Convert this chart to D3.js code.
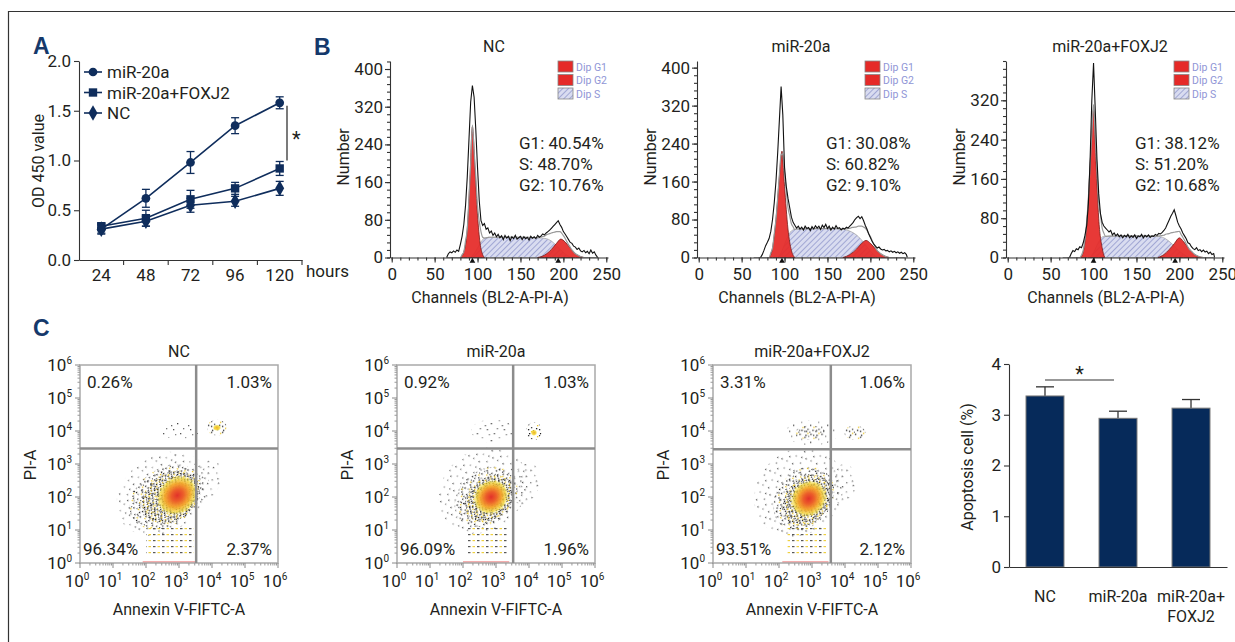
<!DOCTYPE html>
<html>
<head>
<meta charset="UTF-8">
<title>miR-20a / FOXJ2 figure</title>
<script src="https://d3js.org/d3.v7.min.js"></script>
<style>
  body { margin: 0; background: #fff; }
  svg text { fill: #231f20; }
  .axis path, .axis line { stroke: #333; stroke-width: 1.1; }
</style>
</head>
<body>
<svg id="fig" width="1235" height="642"></svg>
<script>
  // ---------- data ----------
  // panel A: CCK-8
  const hours = ["24", "48", "72", "96", "120"];
  const odMir = [0.31, 0.62, 0.98, 1.35, 1.58];
  const odMirErr = [0.04, 0.09, 0.11, 0.08, 0.06];
  const odFox = [0.34, 0.42, 0.61, 0.72, 0.92];
  const odFoxErr = [0.03, 0.08, 0.09, 0.06, 0.07];
  const odNC = [0.31, 0.39, 0.55, 0.59, 0.72];
  const odNCErr = [0.05, 0.05, 0.07, 0.05, 0.07];
  const odSeries = ["miR-20a", "miR-20a+FOXJ2", "NC"];

  // panel B: cell cycle histograms  [channel, count]
  const cycleTitles = ["NC", "miR-20a", "miR-20a+FOXJ2"];
  const cycleStats = [
    ["G1: 40.54%", "S: 48.70%", "G2: 10.76%"],
    ["G1: 30.08%", "S: 60.82%", "G2: 9.10%"],
    ["G1: 38.12%", "S: 51.20%", "G2: 10.68%"]
  ];
  const cycleYMax = [417, 414, 400];
  const cycleYTicks = [[0, 80, 160, 240, 320, 400], [0, 80, 160, 240, 320, 400], [0, 80, 160, 240, 320]];
  const cycleMarks = [[94, 194], [97], [100, 195]];
  const histNC = [[64,0],[66,8],[68,12],[70,10],[72,14],[74,11],[76,16],[78,13],[80,28],[82,45],[84,70],[86,110],[88,170],[90,250],[92,330],[94,365],[96,340],[98,270],[100,190],[102,120],[104,78],[106,68],[108,72],[110,60],[112,63],[114,52],[116,56],[118,47],[120,52],[122,44],[124,49],[126,42],[128,46],[130,38],[132,47],[134,41],[136,45],[138,36],[140,44],[142,40],[144,47],[146,39],[148,42],[150,45],[152,38],[154,44],[156,40],[158,43],[160,37],[162,45],[164,41],[166,44],[168,40],[170,47],[172,43],[174,46],[176,50],[178,48],[180,52],[182,55],[184,58],[186,62],[188,66],[190,70],[192,74],[194,78],[196,70],[198,64],[200,55],[202,50],[204,44],[206,38],[208,32],[210,30],[212,24],[214,22],[216,17],[218,20],[220,14],[222,12],[224,15],[226,10],[228,13],[230,8],[232,16],[234,9],[236,12],[238,5],[240,0]];
  const histMir = [[72,0],[74,6],[76,15],[78,25],[80,32],[82,40],[84,55],[86,80],[88,115],[90,160],[92,220],[94,290],[96,360],[98,300],[100,190],[102,150],[104,125],[106,105],[108,85],[110,74],[112,68],[114,62],[116,66],[118,60],[120,64],[122,58],[124,66],[126,61],[128,63],[130,57],[132,65],[134,60],[136,67],[138,62],[140,66],[142,59],[144,68],[146,63],[148,70],[150,61],[152,66],[154,58],[156,64],[158,60],[160,67],[162,61],[164,63],[166,58],[168,62],[170,60],[172,64],[174,62],[176,66],[178,70],[180,74],[182,80],[184,84],[186,87],[188,82],[190,86],[192,78],[194,68],[196,60],[198,50],[200,42],[202,34],[204,28],[206,24],[208,20],[210,22],[212,18],[214,16],[216,17],[218,14],[220,15],[222,12],[224,14],[226,11],[228,13],[230,10],[232,12],[234,9],[236,11],[238,8],[240,10],[242,6],[243,0]];
  const histFox = [[72,0],[74,8],[76,14],[78,12],[80,18],[82,16],[84,22],[86,20],[88,30],[90,45],[92,65],[94,110],[96,200],[98,320],[100,396],[102,300],[104,200],[106,130],[108,90],[110,72],[112,64],[114,60],[116,56],[118,52],[120,55],[122,46],[124,50],[126,44],[128,48],[130,42],[132,46],[134,40],[136,45],[138,42],[140,47],[142,40],[144,44],[146,41],[148,46],[150,39],[152,44],[154,42],[156,47],[158,40],[160,45],[162,42],[164,46],[166,41],[168,44],[170,43],[172,47],[174,45],[176,49],[178,48],[180,51],[182,55],[184,60],[186,68],[188,76],[190,84],[192,90],[194,97],[196,85],[198,72],[200,64],[202,58],[204,50],[206,44],[208,38],[210,30],[212,28],[214,22],[216,18],[218,16],[220,20],[222,14],[224,16],[226,12],[228,15],[230,11],[232,13],[234,8],[236,11],[238,6],[240,8],[241,0]];
  // fitted model components
  const g1NC = [[80,0],[84,12],[88,60],[91,160],[94,277],[97,190],[100,90],[103,30],[106,6],[108,0]];
  const sNC = [[92,0],[96,8],[100,20],[104,33],[108,41],[114,43],[130,43],[150,43],[170,42],[180,40],[186,35],[192,25],[198,14],[204,5],[210,0]];
  const g2NC = [[170,0],[178,5],[186,17],[192,30],[197,39],[202,33],[208,20],[214,8],[220,2],[224,0]];
  const g1Mir = [[82,0],[86,20],[90,80],[94,170],[97,224],[100,150],[104,60],[108,15],[112,0]];
  const sMir = [[92,0],[96,10],[100,28],[104,45],[108,56],[114,60],[140,61],[160,61],[170,59],[178,54],[186,44],[192,32],[198,18],[204,6],[208,0]];
  const g2Mir = [[168,0],[176,6],[184,18],[190,30],[195,36],[200,30],[206,18],[212,8],[218,2],[222,0]];
  const g1Fox = [[85,0],[89,20],[93,90],[97,220],[100,301],[103,190],[106,80],[110,20],[113,0]];
  const sFox = [[96,0],[100,10],[104,25],[108,38],[112,43],[130,44],[160,44],[176,43],[184,38],[190,30],[196,20],[202,10],[208,3],[211,0]];
  const g2Fox = [[175,0],[182,6],[188,16],[194,28],[200,40],[205,32],[211,18],[218,6],[224,1],[228,0]];
  const cycleLegend = ["Dip G1", "Dip G2", "Dip S"];

  // panel C: annexin V / PI
  const apoTitles = ["NC", "miR-20a", "miR-20a+FOXJ2"];
  const apoUL = ["0.26%", "0.92%", "3.31%"];
  const apoUR = ["1.03%", "1.03%", "1.06%"];
  const apoLL = ["96.34%", "96.09%", "93.51%"];
  const apoLR = ["2.37%", "1.96%", "2.12%"];
  const gateX = [3.52, 3.52, 3.57];   // log10 decades
  const gateY = [3.47, 3.47, 3.45];
  // event clouds: [kind, log x, log y, radius x, radius y (decades), tilt deg]
  const cloudNC = [
    ["sparse", 2.5, 2.1, 1.5, 1.15, -35], ["sparse", 3.0, 4.0, 0.6, 0.25, 0], ["sparse", 3.85, 2.5, 0.4, 0.65, 20],
    ["rows", 2.72, 0.72, 0.72, 0.45, 0],
    ["mid", 2.6, 2.0, 1.2, 0.85, -35], ["dense", 2.75, 2.0, 0.95, 0.72, -35],
    ["heat", 2.95, 2.05, 0.66, 0.56, -40],
    ["mid", 4.15, 4.1, 0.3, 0.24, 0], ["yellow", 4.15, 4.1, 0.13, 0.1, 0],
    ["strip", 2.7, 0.03, 0.8, 0.03, 0]
  ];
  const cloudMir = [
    ["sparse", 2.6, 2.2, 1.45, 1.2, -40], ["sparse", 2.9, 4.0, 0.65, 0.35, 0], ["sparse", 3.9, 2.4, 0.4, 0.65, 15],
    ["rows", 2.72, 0.7, 0.62, 0.45, 0],
    ["mid", 2.7, 2.0, 1.05, 0.8, -40], ["dense", 2.8, 1.95, 0.82, 0.62, -40],
    ["heat", 2.85, 2.0, 0.56, 0.5, -40],
    ["mid", 4.15, 4.0, 0.24, 0.27, 0], ["yellow", 4.15, 3.95, 0.1, 0.1, 0],
    ["strip", 2.7, 0.03, 0.7, 0.03, 0]
  ];
  const cloudFox = [
    ["sparse", 2.6, 2.15, 1.45, 1.25, -45], ["sparse", 3.0, 3.95, 0.8, 0.38, 0], ["sparse", 3.9, 2.4, 0.45, 0.6, 15],
    ["rows", 2.85, 0.7, 0.6, 0.45, 0],
    ["mid", 2.75, 1.95, 1.05, 0.82, -50], ["dense", 2.85, 1.9, 0.85, 0.65, -50],
    ["heat", 2.9, 1.95, 0.58, 0.52, -50],
    ["mid", 2.95, 3.95, 0.45, 0.22, 0], ["mid", 4.3, 3.95, 0.32, 0.22, 0],
    ["strip", 2.8, 0.03, 0.7, 0.03, 0]
  ];

  // panel C bar chart
  const barCats = ["NC", "miR-20a", "miR-20a+FOXJ2"];
  const barVals = [3.37, 2.93, 3.13];
  const barErr = [0.18, 0.14, 0.17];

  // ---------- setup ----------
  const FONT = '"Liberation Sans Narrow", Roboto, "Liberation Sans", sans-serif';
  const NAVY = "#0f2d5c";
  const svg = d3.select("#fig").style("font-family", FONT);
  svg.append("rect").attr("width", 1235).attr("height", 642).attr("fill", "#fff");
  svg.append("path").attr("d", "M8.5,642V11.5H1235").attr("fill", "none").attr("stroke", "#333").attr("stroke-width", 1.2);

  const defs = svg.append("defs");
  const hatch = defs.append("pattern").attr("id", "hatch").attr("patternUnits", "userSpaceOnUse")
    .attr("width", 4).attr("height", 4).attr("patternTransform", "rotate(45)");
  hatch.append("rect").attr("width", 4).attr("height", 4).attr("fill", "#d9dcf0");
  hatch.append("line").attr("x1", 0).attr("y1", 0).attr("x2", 0).attr("y2", 4).attr("stroke", "#7b83c2").attr("stroke-width", 1.2);

  // stipple tiles (style only): [x, y, colour] positions inside a tile
  function dotPattern(id, size, dots) {
    const p = defs.append("pattern").attr("id", id).attr("patternUnits", "userSpaceOnUse").attr("width", size).attr("height", size);
    dots.forEach(d => p.append("rect").attr("x", d[0]).attr("y", d[1]).attr("width", 1.3).attr("height", 1.3).attr("fill", d[2]));
  }
  dotPattern("dotsSparse", 17, [[1, 2, "#555"], [9, 11, "#666"], [13, 3, "#888"], [4, 14, "#777"], [15, 9, "#444"], [6, 6, "#999"], [11, 15, "#555"]]);
  dotPattern("dotsMid", 11, [[0, 1, "#222"], [5, 4, "#333"], [8, 0, "#e8c21f"], [2, 8, "#222"], [8, 7, "#444"], [6, 2, "#1a1a1a"], [3, 5, "#e9c31f"], [10, 10, "#333"], [5, 9, "#222"]]);
  dotPattern("dotsDense", 7, [[0, 0, "#111"], [3, 1, "#f0cf24"], [5, 4, "#222"], [1, 4, "#e9c21e"], [4, 6, "#111"], [6, 2, "#333"], [2, 2, "#222"], [6, 6, "#f0c61f"]]);
  const rows = defs.append("pattern").attr("id", "rows").attr("patternUnits", "userSpaceOnUse").attr("width", 9).attr("height", 6);
  rows.append("rect").attr("x", 0).attr("y", 0).attr("width", 2.5).attr("height", 1.2).attr("fill", "#444");
  rows.append("rect").attr("x", 4.5).attr("y", 0).attr("width", 2.5).attr("height", 1.2).attr("fill", "#eccb2a");

  const heat = defs.append("radialGradient").attr("id", "heat");
  [[0, "#e2322a", 1], [0.3, "#ec5f2a", 1], [0.6, "#f4a52a", 0.95], [0.85, "#f3d83a", 0.7], [1, "#f3e34a", 0]]
    .forEach(s => heat.append("stop").attr("offset", s[0]).attr("stop-color", s[1]).attr("stop-opacity", s[2]));
  const yel = defs.append("radialGradient").attr("id", "yel");
  [[0, "#f2b12a", 1], [0.6, "#f3d83a", 0.9], [1, "#f3e34a", 0]]
    .forEach(s => yel.append("stop").attr("offset", s[0]).attr("stop-color", s[1]).attr("stop-opacity", s[2]));

  function panelLetter(t, x, y) {
    svg.append("text").attr("x", x).attr("y", y).text(t)
      .style("font-family", "Liberation Sans, Arial, sans-serif").attr("font-weight", "bold")
      .attr("font-size", 23).style("fill", "#15396b");
  }
  panelLetter("A", 33, 54);
  panelLetter("B", 314, 55);
  panelLetter("C", 33, 336);

  // ---------- panel A ----------
  const xA = d3.scaleBand().domain(hours).range([79, 302]);
  const yA = d3.scaleLinear().domain([0, 2]).range([260, 61]);
  const gA = svg.append("g");
  gA.append("g").attr("class", "axis").attr("transform", "translate(79,0)")
    .call(d3.axisLeft(yA).tickValues([0, 0.5, 1, 1.5, 2]).tickFormat(d3.format(".1f")).tickSize(5).tickSizeOuter(0))
    .call(g => g.selectAll("text").attr("font-size", 17).attr("font-family", FONT));
  const xAx = gA.append("g").attr("class", "axis").attr("transform", "translate(0,260)")
    .call(d3.axisBottom(xA).tickSize(0).tickSizeOuter(0).tickPadding(9))
    .call(g => g.selectAll("text").attr("font-size", 17).attr("font-family", FONT));
  xAx.selectAll(".edge").data(hours).join("line")
    .attr("x1", d => xA(d) + xA.bandwidth()).attr("x2", d => xA(d) + xA.bandwidth())
    .attr("y1", 0).attr("y2", 5);
  gA.append("text").attr("x", 306).attr("y", 277).attr("font-size", 17).text("hours");
  gA.append("text").attr("transform", "translate(44,161) rotate(-90)").attr("text-anchor", "middle")
    .attr("font-size", 16).text("OD 450 value");

  const seriesA = [
    { name: odSeries[0], v: odMir, e: odMirErr, sym: d3.symbolCircle, size: 60 },
    { name: odSeries[1], v: odFox, e: odFoxErr, sym: d3.symbolSquare, size: 70 },
    { name: odSeries[2], v: odNC, e: odNCErr, sym: d3.symbolDiamond, size: 70 }
  ];
  const cx = h => xA(h) + xA.bandwidth() / 2;
  seriesA.forEach(s => {
    const pts = hours.map((h, i) => ({ h, v: s.v[i], e: s.e[i] }));
    gA.append("path").datum(pts)
      .attr("d", d3.line().x(d => cx(d.h)).y(d => yA(d.v)))
      .attr("fill", "none").attr("stroke", NAVY).attr("stroke-width", 1.6);
    const eb = gA.append("g").attr("stroke", NAVY).attr("stroke-width", 1.3);
    pts.forEach(d => {
      eb.append("line").attr("x1", cx(d.h)).attr("x2", cx(d.h)).attr("y1", yA(d.v - d.e)).attr("y2", yA(d.v + d.e));
      [d.v - d.e, d.v + d.e].forEach(y => eb.append("line").attr("x1", cx(d.h) - 4).attr("x2", cx(d.h) + 4).attr("y1", yA(y)).attr("y2", yA(y)));
    });
    gA.selectAll(null).data(pts).join("path")
      .attr("transform", d => `translate(${cx(d.h)},${yA(d.v)})`)
      .attr("d", d3.symbol(s.sym, s.size)).attr("fill", NAVY);
  });
  // legend
  seriesA.forEach((s, i) => {
    const y = 72 + i * 20.5;
    gA.append("line").attr("x1", 84).attr("x2", 102).attr("y1", y).attr("y2", y).attr("stroke", NAVY).attr("stroke-width", 1.6);
    gA.append("path").attr("transform", `translate(93,${y})`).attr("d", d3.symbol(s.sym, s.size)).attr("fill", NAVY);
    gA.append("text").attr("x", 107).attr("y", y + 6).attr("font-size", 17).text(s.name);
  });
  gA.append("line").attr("x1", 287).attr("x2", 287).attr("y1", yA(1.55)).attr("y2", yA(1.0)).attr("stroke", "#333").attr("stroke-width", 1.3);
  gA.append("text").attr("x", 292).attr("y", 146).attr("font-size", 20).text("*");

  // ---------- panel B ----------
  const cycleHist = [histNC, histMir, histFox];
  const cycleG1 = [g1NC, g1Mir, g1Fox];
  const cycleS = [sNC, sMir, sFox];
  const cycleG2 = [g2NC, g2Mir, g2Fox];
  const cycleLeft = [390, 697, 1006];

  // sum of model components, used for the grey fitted envelope
  function interp(arr, c) {
    if (c <= arr[0][0] || c >= arr[arr.length - 1][0]) return 0;
    for (let i = 1; i < arr.length; i++) {
      if (c <= arr[i][0]) {
        const t = (c - arr[i - 1][0]) / (arr[i][0] - arr[i - 1][0]);
        return arr[i - 1][1] + t * (arr[i][1] - arr[i - 1][1]);
      }
    }
    return 0;
  }

  cycleTitles.forEach((title, k) => {
    const left = cycleLeft[k];
    const x = d3.scaleLinear().domain([-2, 252]).range([left, left + 218]);
    const y = d3.scaleLinear().domain([0, cycleYMax[k]]).range([257.5, 61]);
    const g = svg.append("g");
    const area = d3.area().x(d => x(d[0])).y0(y(0)).y1(d => y(d[1])).curve(d3.curveMonotoneX);
    const line = d3.line().x(d => x(d[0])).y(d => y(d[1])).curve(d3.curveMonotoneX);

    g.append("path").datum(cycleS[k]).attr("d", area).attr("fill", "url(#hatch)").attr("stroke", "#aaa").attr("stroke-width", 0.8);
    [cycleG1[k], cycleG2[k]].forEach(c => {
      g.append("path").datum(c).attr("d", area).attr("fill", "#e52a28").attr("fill-opacity", 0.93)
        .attr("stroke", "#7a1a18").attr("stroke-width", 0.8);
    });
    const env = d3.range(64, 242, 2).map(c => [c, interp(cycleG1[k], c) + interp(cycleS[k], c) + interp(cycleG2[k], c)]);
    g.append("path").datum(env).attr("d", line).attr("fill", "none").attr("stroke", "#9a9a9a").attr("stroke-width", 1.2);
    g.append("path").datum(cycleHist[k]).attr("d", d3.line().x(d => x(d[0])).y(d => y(d[1])))
      .attr("fill", "none").attr("stroke", "#111").attr("stroke-width", 1.1);

    // axes
    g.append("g").attr("class", "axis").attr("transform", `translate(${left},0)`)
      .call(d3.axisLeft(y).tickValues(d3.range(0, cycleYMax[k] + 1, 16)).tickSize(3).tickFormat("").tickSizeOuter(0));
    g.append("g").attr("class", "axis").attr("transform", `translate(${left},0)`)
      .call(d3.axisLeft(y).tickValues(cycleYTicks[k]).tickSize(5).tickPadding(2).tickSizeOuter(0))
      .call(a => a.select(".domain").remove())
      .call(a => a.selectAll("text").attr("font-size", 17).attr("font-family", FONT));
    g.append("g").attr("class", "axis").attr("transform", "translate(0,257.5)")
      .call(d3.axisBottom(x).tickValues(d3.range(0, 251, 10)).tickSize(3).tickFormat("").tickSizeOuter(0));
    g.append("g").attr("class", "axis").attr("transform", "translate(0,257.5)")
      .call(d3.axisBottom(x).tickValues([0, 50, 100, 150, 200, 250]).tickSize(5).tickPadding(5).tickSizeOuter(0))
      .call(a => a.select(".domain").remove())
      .call(a => a.selectAll("text").attr("font-size", 17).attr("font-family", FONT));
    cycleMarks[k].forEach(c => {
      g.append("path").attr("transform", `translate(${x(c)},261)`).attr("d", d3.symbol(d3.symbolTriangle, 14)).attr("fill", "#111");
    });

    g.append("text").attr("x", left + 104).attr("y", 52).attr("text-anchor", "middle").attr("font-size", 16).text(title);
    g.append("text").attr("x", left + 100).attr("y", 303).attr("text-anchor", "middle").attr("font-size", 16).text("Channels (BL2-A-PI-A)");
    g.append("text").attr("transform", `translate(${left - 41},${157}) rotate(-90)`).attr("text-anchor", "middle")
      .attr("font-size", 16).text("Number");
    cycleStats[k].forEach((t, i) => {
      g.append("text").attr("x", left + 129).attr("y", 149 + i * 21).attr("font-size", 17).text(t);
    });
    cycleLegend.forEach((t, i) => {
      const ly = 61 + i * 13.5;
      g.append("rect").attr("x", left + 168).attr("y", ly).attr("width", 15).attr("height", 11)
        .attr("fill", i < 2 ? "#e52a28" : "url(#hatch)").attr("stroke", "#888").attr("stroke-width", 0.8);
      g.append("text").attr("x", left + 186).attr("y", ly + 9.5).attr("font-size", 10.5).style("fill", "#9095d6").text(t);
    });
  });

  // ---------- panel C: flow plots ----------
  const apoClouds = [cloudNC, cloudMir, cloudFox];
  const apoLeft = [80, 397, 713];
  const decades = [0, 1, 2, 3, 4, 5, 6];
  function supTick(sel, e) {
    sel.append("tspan").text("10");
    sel.append("tspan").attr("dy", -7).attr("font-size", 10).text(e);
  }

  apoTitles.forEach((title, k) => {
    const left = apoLeft[k], top = 365, size = 198;
    const x = d3.scaleLog().domain([1, 1e6]).range([left, left + size]);
    const y = d3.scaleLog().domain([1, 1e6]).range([top + size, top]);
    const dec = size / 6;
    const g = svg.append("g");
    const clipId = "clip" + k;
    defs.append("clipPath").attr("id", clipId).append("rect").attr("x", left).attr("y", top).attr("width", size).attr("height", size);
    const cl = g.append("g").attr("clip-path", `url(#${clipId})`);

    apoClouds[k].forEach(c => {
      const [kind, lx, ly, rx, ry, rot] = c;
      const px = x(Math.pow(10, lx)), py = y(Math.pow(10, ly));
      if (kind === "rows" || kind === "strip") {
        cl.append("rect").attr("x", px - rx * dec).attr("y", py - ry * dec).attr("width", 2 * rx * dec).attr("height", 2 * ry * dec)
          .attr("fill", kind === "rows" ? "url(#rows)" : "#f08a8a").attr("opacity", kind === "rows" ? 0.9 : 0.7);
        return;
      }
      const fill = { sparse: "url(#dotsSparse)", mid: "url(#dotsMid)", dense: "url(#dotsDense)", heat: "url(#heat)", yellow: "url(#yel)" }[kind];
      cl.append("ellipse").attr("transform", `translate(${px},${py}) rotate(${rot})`)
        .attr("rx", rx * dec).attr("ry", ry * dec).attr("fill", fill);
    });

    // frame and gates
    g.append("rect").attr("x", left).attr("y", top).attr("width", size).attr("height", size)
      .attr("fill", "none").attr("stroke", "#a9a9a9").attr("stroke-width", 1.5);
    const gx = x(Math.pow(10, gateX[k])), gy = y(Math.pow(10, gateY[k]));
    g.append("line").attr("x1", gx).attr("x2", gx).attr("y1", top).attr("y2", top + size).attr("stroke", "#8c8c8c").attr("stroke-width", 2.5);
    g.append("line").attr("x1", left).attr("x2", left + size).attr("y1", gy).attr("y2", gy).attr("stroke", "#8c8c8c").attr("stroke-width", 2.5);

    // log ticks
    const minor = [];
    decades.slice(0, 6).forEach(d => d3.range(2, 10).forEach(m => minor.push(m * Math.pow(10, d))));
    g.append("g").selectAll("line").data(minor).join("line")
      .attr("x1", d => x(d)).attr("x2", d => x(d)).attr("y1", top + size).attr("y2", top + size + 2.5).attr("stroke", "#999");
    g.append("g").selectAll("line").data(decades).join("line")
      .attr("x1", d => x(Math.pow(10, d))).attr("x2", d => x(Math.pow(10, d))).attr("y1", top + size).attr("y2", top + size + 5).attr("stroke", "#888");
    g.append("g").selectAll("line").data(minor).join("line")
      .attr("y1", d => y(d)).attr("y2", d => y(d)).attr("x1", left).attr("x2", left - 2.5).attr("stroke", "#999");
    g.append("g").selectAll("line").data(decades).join("line")
      .attr("y1", d => y(Math.pow(10, d))).attr("y2", d => y(Math.pow(10, d))).attr("x1", left).attr("x2", left - 5).attr("stroke", "#888");
    decades.forEach(d => {
      g.append("text").attr("x", x(Math.pow(10, d)) - 3).attr("y", top + size + 24).attr("text-anchor", "middle")
        .attr("font-size", 17).call(supTick, d);
      g.append("text").attr("x", left - 8).attr("y", y(Math.pow(10, d)) + 6).attr("text-anchor", "end")
        .attr("font-size", 17).call(supTick, d);
    });

    g.append("text").attr("x", left + size / 2).attr("y", top - 8).attr("text-anchor", "middle").attr("font-size", 16).text(title);
    g.append("text").attr("x", left + size / 2).attr("y", top + size + 52).attr("text-anchor", "middle").attr("font-size", 16).text("Annexin V-FIFTC-A");
    g.append("text").attr("transform", `translate(${left - 44},${top + 100}) rotate(-90)`).attr("text-anchor", "middle")
      .attr("font-size", 17).text("PI-A");
    g.append("text").attr("x", left + 7).attr("y", top + 23).attr("font-size", 17).text(apoUL[k]);
    g.append("text").attr("x", left + size - 6).attr("y", top + 23).attr("text-anchor", "end").attr("font-size", 17).text(apoUR[k]);
    g.append("text").attr("x", left + 3).attr("y", top + size - 8).attr("font-size", 17).text(apoLL[k]);
    g.append("text").attr("x", left + size - 6).attr("y", top + size - 8).attr("text-anchor", "end").attr("font-size", 17).text(apoLR[k]);
  });

  // ---------- panel C: bar chart ----------
  const xBar = d3.scaleBand().domain(barCats).range([1009, 1227]).paddingInner(0.48).paddingOuter(0.233);
  const yBar = d3.scaleLinear().domain([0, 4]).range([567, 364]);
  const gBar = svg.append("g");
  barCats.forEach((c, i) => {
    const xc = xBar(c) + xBar.bandwidth() / 2;
    gBar.append("line").attr("x1", xc).attr("x2", xc).attr("y1", yBar(barVals[i])).attr("y2", yBar(barVals[i] + barErr[i]))
      .attr("stroke", "#333").attr("stroke-width", 1.3);
    gBar.append("line").attr("x1", xc - 9).attr("x2", xc + 9).attr("y1", yBar(barVals[i] + barErr[i])).attr("y2", yBar(barVals[i] + barErr[i]))
      .attr("stroke", "#333").attr("stroke-width", 1.3);
  });
  gBar.selectAll("rect").data(barCats).join("rect")
    .attr("x", d => xBar(d)).attr("width", xBar.bandwidth())
    .attr("y", (d, i) => yBar(barVals[i])).attr("height", (d, i) => yBar(0) - yBar(barVals[i]))
    .attr("fill", "#062a5a").attr("stroke", "#777").attr("stroke-width", 1);
  gBar.append("g").attr("class", "axis").attr("transform", "translate(1009,0)")
    .call(d3.axisLeft(yBar).tickValues([0, 1, 2, 3, 4]).tickFormat(d3.format("d")).tickSize(5).tickSizeOuter(0))
    .call(a => a.selectAll("text").attr("font-size", 17).attr("font-family", FONT));
  gBar.append("g").attr("class", "axis").attr("transform", "translate(0,567)")
    .call(d3.axisBottom(xBar).tickSize(0).tickSizeOuter(0).tickFormat(""));
  barCats.forEach(c => {
    const t = gBar.append("text").attr("x", xBar(c) + xBar.bandwidth() / 2).attr("y", 602).attr("text-anchor", "middle").attr("font-size", 16);
    const parts = c.split("+");
    if (parts.length > 1) {
      t.append("tspan").attr("x", xBar(c) + xBar.bandwidth() / 2).text(parts[0] + "+");
      t.append("tspan").attr("x", xBar(c) + xBar.bandwidth() / 2).attr("dy", 20).text(parts[1]);
    } else t.text(c);
  });
  gBar.append("text").attr("transform", "translate(973,467) rotate(-90)").attr("text-anchor", "middle").attr("font-size", 16).text("Apoptosis cell (%)");
  const x0 = xBar("NC") + xBar.bandwidth() / 2, x1 = xBar("miR-20a") + xBar.bandwidth() / 2 - 4;
  gBar.append("line").attr("x1", x0).attr("x2", x1).attr("y1", 380).attr("y2", 380).attr("stroke", "#333").attr("stroke-width", 1.2);
  gBar.append("text").attr("x", (x0 + x1) / 2).attr("y", 381).attr("text-anchor", "middle").attr("font-size", 20).text("*");
</script>
</body>
</html>
